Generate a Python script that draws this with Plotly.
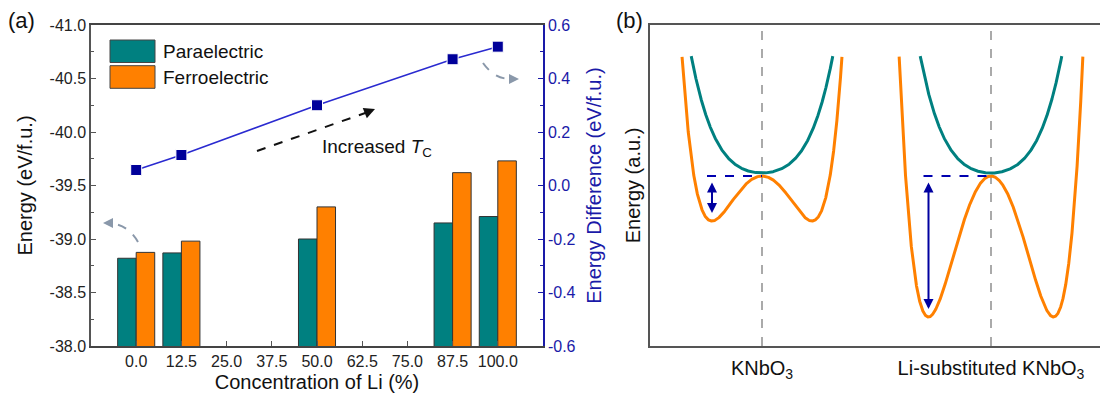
import numpy as np
import plotly.graph_objects as go

# ---------------- data (panel a) ----------------
categories = ["0.0", "12.5", "25.0", "37.5", "50.0", "62.5", "75.0", "87.5", "100.0"]
bar_conc = ["0.0", "12.5", "50.0", "87.5", "100.0"]
para_energy = [-38.82, -38.87, -39.00, -39.15, -39.21]
ferro_energy = [-38.875, -38.98, -39.30, -39.62, -39.73]
diff_energy = [0.058, 0.114, 0.300, 0.472, 0.519]

left_ticks = [-41.0, -40.5, -40.0, -39.5, -39.0, -38.5, -38.0]
left_ticktext = ["-41.0", "-40.5", "-40.0", "-39.5", "-39.0", "-38.5", "-38.0"]
right_ticks = [-0.6, -0.4, -0.2, 0.0, 0.2, 0.4, 0.6]
right_ticktext = ["-0.6", "-0.4", "-0.2", "0.0", "0.2", "0.4", "0.6"]

# ---------------- schematic model (panel b) ----------------
systems = ["KNbO<sub>3</sub>", "Li-substituted KNbO<sub>3</sub>"]
centers = [0.0, 229.0]
well_pos = [50.0, 62.5]      # position of ferroelectric minima
well_depth = [45.0, 141.0]   # depth of ferroelectric minima
well_stiff = [8.9, 24.4]     # outer wall stiffening
para_quad = 0.01007
para_quart = 2.647e-6
para_offset = 3.0
e_top = 120.0

TEAL = "#008080"
ORANGE = "#ff8000"
BLUE = "#1a1aa8"
NAVY = "#00009a"
AXC = "#555555"
FONT = "Liberation Sans, Arial, sans-serif"

W, H = 1100, 401


def px(x, y):
    return x / W, 1 - y / H


fig = go.Figure()

fig.add_trace(go.Bar(x=bar_conc, y=para_energy, name="Paraelectric",
                     marker=dict(color=TEAL, line=dict(color="#333333", width=1)),
                     xaxis="x", yaxis="y"))
fig.add_trace(go.Bar(x=bar_conc, y=ferro_energy, name="Ferroelectric",
                     marker=dict(color=ORANGE, line=dict(color="#333333", width=1)),
                     xaxis="x", yaxis="y"))
fig.add_trace(go.Scatter(x=bar_conc, y=diff_energy, mode="lines+markers",
                         line=dict(color="#2a2ad0", width=1.5),
                         marker=dict(symbol="square", size=11, color=NAVY,
                                     line=dict(color="white", width=1)),
                         xaxis="x", yaxis="y2"))

# panel b curves
for c, a, d, k in zip(centers, well_pos, well_depth, well_stiff):
    xs = np.linspace(-130, 130, 4001)
    u = xs / a
    e_f = d * ((u ** 2 - 1) ** 2 - 1) + k * u ** 2 * (u ** 2 - 1) ** 2
    m = e_f <= e_top
    fig.add_trace(go.Scatter(x=(xs + c)[m], y=e_f[m], mode="lines",
                             line=dict(color=ORANGE, width=3),
                             xaxis="x3", yaxis="y3"))
    e_p = para_quad * xs ** 2 + para_quart * xs ** 4 + para_offset
    m2 = e_p <= e_top
    fig.add_trace(go.Scatter(x=(xs + c)[m2], y=e_p[m2], mode="lines",
                             line=dict(color=TEAL, width=3),
                             xaxis="x3", yaxis="y3"))

shapes = []
annotations = []

# panel b: dashed centre lines, dashed energy reference, double arrows
for c, a, d in zip(centers, well_pos, well_depth):
    shapes.append(dict(type="line", xref="x3", yref="y3 domain", x0=c, x1=c, y0=0, y1=1,
                       line=dict(color="#aaaaaa", width=2, dash="dash"), layer="below"))
    shapes.append(dict(type="line", xref="x3", yref="y3", x0=c - a - 5, x1=c, y0=0, y1=0,
                       line=dict(color="#0000b0", width=2, dash="dash")))
    annotations.append(dict(xref="x3", yref="y3", axref="x3", ayref="y3",
                            x=c - a, y=-d + 8, ax=c - a, ay=-5, text="",
                            showarrow=True, arrowhead=2, arrowside="end+start",
                            arrowsize=1, arrowwidth=2, arrowcolor="#0000a0"))

# panel a decorations: legend boxes
leg_items = [("Paraelectric", TEAL, 40, 62.5), ("Ferroelectric", ORANGE, 65.7, 88.3)]
for name, col, y0, y1 in leg_items:
    x0p, y0p = px(110, y0)
    x1p, y1p = px(155, y1)
    shapes.append(dict(type="rect", xref="paper", yref="paper", x0=x0p, x1=x1p, y0=y1p, y1=y0p,
                       fillcolor=col, line=dict(color="#444444", width=1)))
    tx, ty = px(161, (y0 + y1) / 2)
    annotations.append(dict(xref="paper", yref="paper", x=tx, y=ty, xanchor="left", yanchor="middle",
                            text=name, showarrow=False, font=dict(size=19, color="#111111", family=FONT)))

# black dashed arrow
sx, sy = px(257, 151)
ex, ey = px(368, 112)
shapes.append(dict(type="line", xref="paper", yref="paper", x0=sx, y0=sy, x1=ex, y1=ey,
                   line=dict(color="#111111", width=2, dash="dash")))
hx, hy = px(375, 109)
annotations.append(dict(xref="paper", yref="paper", x=hx, y=hy, ax=-10, ay=4, text="",
                        showarrow=True, arrowhead=2, arrowsize=1.1, arrowwidth=2, arrowcolor="#111111"))
tx, ty = px(320, 148)
annotations.append(dict(xref="paper", yref="paper", x=tx, y=ty, xanchor="left", yanchor="middle",
                        text="Increased <i>T</i><sub>C</sub>", showarrow=False,
                        font=dict(size=19, color="#111111", family=FONT)))


def qpath(p0, c1, p1):
    a0 = px(*p0)
    a1 = px(*c1)
    a2 = px(*p1)
    return f"M {a0[0]},{a0[1]} Q {a1[0]},{a1[1]} {a2[0]},{a2[1]}"


GRAY = "#8a98aa"
shapes.append(dict(type="path", xref="paper", yref="paper", path=qpath((138, 242), (128, 224), (108, 223)),
                   line=dict(color=GRAY, width=2, dash="dash")))
hx, hy = px(103, 223)
annotations.append(dict(xref="paper", yref="paper", x=hx, y=hy, ax=9, ay=0, text="", showarrow=True,
                        arrowhead=2, arrowsize=1, arrowwidth=2, arrowcolor=GRAY))
shapes.append(dict(type="path", xref="paper", yref="paper", path=qpath((483, 63), (495, 80), (513, 79)),
                   line=dict(color=GRAY, width=2, dash="dash")))
hx, hy = px(519, 79)
annotations.append(dict(xref="paper", yref="paper", x=hx, y=hy, ax=-9, ay=0, text="", showarrow=True,
                        arrowhead=2, arrowsize=1, arrowwidth=2, arrowcolor=GRAY))

# panel labels
for lab, xx in [("(a)", 6), ("(b)", 614)]:
    lx, ly = px(xx, 21)
    annotations.append(dict(xref="paper", yref="paper", x=lx, y=ly, xanchor="left", yanchor="middle",
                            text=lab, showarrow=False, font=dict(size=22, color="#111111", family=FONT)))

dom_y = [1 - 346 / H, 1 - 25 / H]

fig.update_layout(
    width=W, height=H, margin=dict(l=0, r=0, t=0, b=0, autoexpand=False),
    paper_bgcolor="white", plot_bgcolor="white", showlegend=False,
    barmode="group", bargap=0.18, bargroupgap=0,
    font=dict(family=FONT, color="#111111"),
    shapes=shapes, annotations=annotations,
    xaxis=dict(domain=[91 / W, 543 / W], anchor="y", type="category", automargin=False,
               categoryorder="array", categoryarray=categories, range=[-1, 9],
               showline=True, linecolor="#444444", linewidth=1.5, mirror=True,
               ticks="inside", ticklen=5, tickcolor=AXC, showgrid=False, zeroline=False,
               tickfont=dict(size=16, color="#222222"),
               title=dict(text="Concentration of Li (%)", font=dict(size=20, color="#111111"), standoff=6)),
    yaxis=dict(domain=dom_y, anchor="x", range=[-38, -41], tickvals=left_ticks, ticktext=left_ticktext,
               automargin=False,
               showline=True, linecolor=AXC, linewidth=1.5, ticks="inside", ticklen=5, tickcolor=AXC,
               minor=dict(ticks="inside", ticklen=3, tickcolor=AXC, dtick=0.25),
               showgrid=False, zeroline=False, tickfont=dict(size=16, color="#222222"),
               title=dict(text="Energy (eV/f.u.)", font=dict(size=20, color="#111111"), standoff=12)),
    yaxis2=dict(overlaying="y", side="right", anchor="x", range=[-0.6, 0.6],
                tickvals=right_ticks, ticktext=right_ticktext, automargin=False,
                showline=True, linecolor=BLUE, linewidth=1.5, ticks="inside", ticklen=5, tickcolor=BLUE,
                minor=dict(ticks="inside", ticklen=3, tickcolor=BLUE, dtick=0.1),
                showgrid=False, zeroline=False, tickfont=dict(size=16, color=BLUE),
                title=dict(text="Energy Difference (eV/f.u.)", font=dict(size=20, color=BLUE), standoff=12)),
    xaxis3=dict(domain=[650 / W, 1.0], anchor="y3", range=[-112, 338], automargin=False,
                tickvals=centers, ticktext=systems, ticks="", ticklabelstandoff=3,
                showline=True, linecolor=AXC, linewidth=1.5, mirror=True,
                showgrid=False, zeroline=False, tickfont=dict(size=20, color="#111111")),
    yaxis3=dict(domain=dom_y, anchor="x3", range=[-170, 151], showticklabels=False, ticks="",
                automargin=False,
                showline=True, linecolor=AXC, linewidth=1.5, showgrid=False, zeroline=False,
                title=dict(text="Energy (a.u.)", font=dict(size=20, color="#111111"), standoff=2)),
)

fig.write_html("out.html")
